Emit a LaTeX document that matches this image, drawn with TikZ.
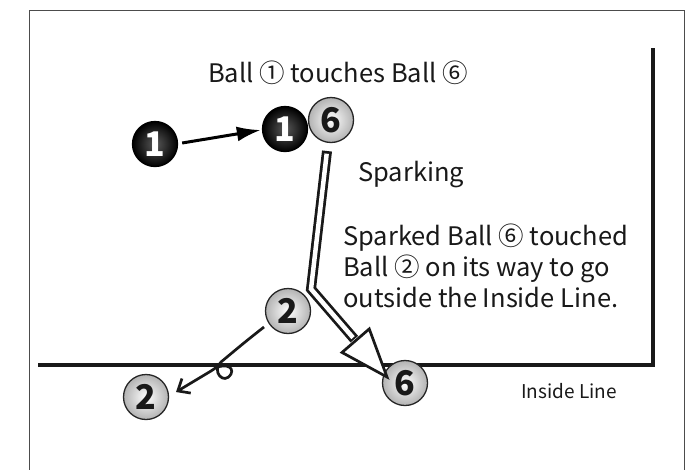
\documentclass[tikz,border=0pt]{standalone}
\usepackage{fontspec}
\newfontfamily\jp{Noto Sans CJK JP}
\usetikzlibrary{arrows.meta,calc}

\tikzset{
  ballbase/.style={circle, minimum size=45pt, inner sep=0pt, line width=1.3pt,
    font=\jp\bfseries\fontsize{34}{34}\selectfont},
  darkball/.style={ballbase, draw=black, inner color=black!65, outer color=black, text=white},
  lightball/.style={ballbase, draw=black!85, inner color=white, outer color=black!30, text=black!90},
  label/.style={inner sep=0pt, anchor=base west, text=black!90,
    font=\jp\fontsize{25.5}{31}\selectfont, align=left},
  smalllabel/.style={label, font=\jp\fontsize{19}{22}\selectfont},
  court/.style={line width=3.5pt, draw=black!90, line join=miter},
}

\begin{document}
\begin{tikzpicture}[x=1pt, y=-1pt]
  \useasboundingbox (0,0) rectangle (687,469);
  \fill[white] (0,0) rectangle (687,469);

  % outer frame (open at the bottom)
  \draw[line width=1.2pt, draw=black!70] (29.5,475) -- (29.5,10.5) -- (684.5,10.5) -- (684.5,475);

  % inside line
  \coordinate (lineL) at (38,365);
  \coordinate (lineC) at (653,365);
  \coordinate (lineT) at (653,48);
  \draw[court] (lineL) -- (lineC) -- (lineT);

  % balls
  \node[darkball]  (b1a) at (155,144) {1};
  \node[darkball]  (b1b) at (285,129) {1};
  \node[lightball] (b6a) at (331,120) {6};
  \node[lightball] (b2a) at (288,311) {2};
  \node[lightball] (b2b) at (146,397) {2};
  \node[lightball] (b6b) at (405,383) {6};

  % ball 1 is struck towards ball 1
  \draw[line width=3pt, -{Latex[length=24pt, width=15pt]}] ($(b1a.east)+(4,-1)$) -- ($(b1b.west)+(-1,1)$);

  % path of the sparked ball 6: hollow double arrow
  \coordinate (sTop)  at (327,151);
  \coordinate (sBend) at (311,289);
  \coordinate (tip)   at (387,377);
  \coordinate (hBase) at ($(tip)!48pt!(sBend)$);
  \coordinate (hL) at ($(hBase)!18pt!90:(tip)$);
  \coordinate (hR) at ($(hBase)!18pt!-90:(tip)$);
  \draw[line width=10pt, black!90, line join=miter] (sTop) -- (sBend) -- ($(hBase)!-2pt!(tip)$);
  \draw[line width=4.5pt, white, line join=miter, shorten <=2.7pt] (sTop) -- (sBend) -- ($(hBase)!-4pt!(tip)$);
  \draw[line width=2.7pt, black!90, fill=white, line join=miter] (hL) -- (tip) -- (hR) -- cycle;

  % path of ball 2 after being touched
  \coordinate (cStart) at (264,327);
  \coordinate (cEnd)   at (176,392);
  \draw[line width=2.7pt, black!90, -{Straight Barb[length=10pt, width=17pt]}]
    (cStart) .. controls (245,342) .. (221,362)
    .. controls (211,371) and (224,386) .. (231,374)
    .. controls (235,366) and (222,362) .. (211,371)
    -- (cEnd);

  % texts
  \node[label] (tTitle) at (208,82) {Ball ① touches Ball ⑥};
  \node[label] (tSpark) at (358,181) {Sparking};
  \node[label] (tNote)  at (343,307) {Sparked Ball ⑥ touched\\Ball ② on its way to go\\outside the Inside Line.};
  \node[smalllabel] (tLine) at (521,398) {Inside Line};
\end{tikzpicture}
\end{document}
